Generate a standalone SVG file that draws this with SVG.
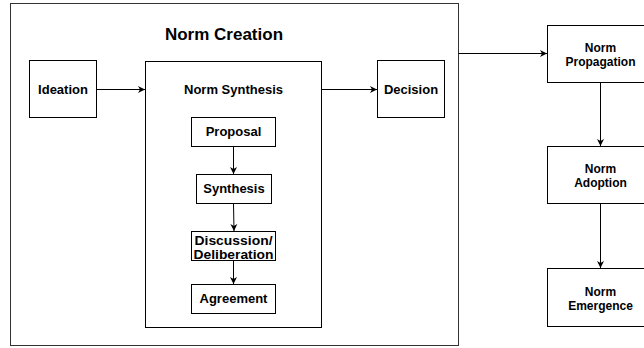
<svg xmlns="http://www.w3.org/2000/svg" width="644" height="348" viewBox="0 0 644 348">
<defs>
<style>
.box{fill:#fff;stroke:#000;stroke-width:1}
.outer{fill:#fff;stroke:#333;stroke-width:1}
.t{font-family:"Liberation Sans",Arial,Helvetica,sans-serif;font-weight:bold;font-size:13px;fill:#000;text-anchor:middle}
.s{font-size:12px}
.d{font-size:12.5px}
.title{font-size:17px}
.c{fill:none;stroke:#000;stroke-width:1}
</style>
<marker id="arr" markerUnits="userSpaceOnUse" markerWidth="8" markerHeight="8" refX="7" refY="4" orient="auto">
<path d="M0,0.5 L7,4 L0,7.5 L2,4 Z" fill="#000"/>
</marker>
</defs>
<rect width="644" height="348" fill="#fff"/>
<g id="norm-creation">
<rect class="outer" x="10.5" y="3.5" width="448" height="342"/>
<text class="t title" x="224" y="40">Norm Creation</text>
</g>
<g id="ideation">
<rect class="box" x="29.5" y="60.5" width="67" height="57"/>
<text class="t" x="63" y="94">Ideation</text>
</g>
<g id="norm-synthesis">
<rect class="box" x="145.5" y="61.5" width="176" height="266"/>
<text class="t" x="233.5" y="94">Norm Synthesis</text>
</g>
<g id="proposal">
<rect class="box" x="191.5" y="117.5" width="84" height="29"/>
<text class="t" x="233.5" y="136">Proposal</text>
</g>
<g id="synthesis">
<rect class="box" x="196.5" y="174.5" width="75" height="29"/>
<text class="t" x="234" y="193">Synthesis</text>
</g>
<g id="discussion">
<rect class="box" x="191.5" y="231.5" width="84" height="29"/>
<text class="t d" x="233.5" y="245" textLength="78" lengthAdjust="spacingAndGlyphs">Discussion/</text>
<text class="t d" x="233.5" y="259" textLength="80" lengthAdjust="spacingAndGlyphs">Deliberation</text>
</g>
<g id="agreement">
<rect class="box" x="191.5" y="284.5" width="84" height="29"/>
<text class="t" x="233.5" y="303">Agreement</text>
</g>
<g id="decision">
<rect class="box" x="377.5" y="60.5" width="67" height="57"/>
<text class="t" x="411" y="94">Decision</text>
</g>
<g id="norm-propagation">
<rect class="box" x="547.5" y="25.5" width="106" height="57"/>
<text class="t s" x="600.5" y="52">Norm</text>
<text class="t s" x="600.5" y="66">Propagation</text>
</g>
<g id="norm-adoption">
<rect class="box" x="547.5" y="146.5" width="106" height="57"/>
<text class="t s" x="600.5" y="173">Norm</text>
<text class="t s" x="600.5" y="187">Adoption</text>
</g>
<g id="norm-emergence">
<rect class="box" x="547.5" y="268.5" width="106" height="58"/>
<text class="t s" x="600.5" y="296">Norm</text>
<text class="t s" x="600.5" y="310">Emergence</text>
</g>
<g id="connectors">
<path class="c" d="M96.5,89.5 H145" marker-end="url(#arr)"/>
<path class="c" d="M321.5,89.5 H377" marker-end="url(#arr)"/>
<path class="c" d="M233.5,146.5 V174" marker-end="url(#arr)"/>
<path class="c" d="M233.5,203.5 L234,231" marker-end="url(#arr)"/>
<path class="c" d="M233.5,260.5 V284" marker-end="url(#arr)"/>
<path class="c" d="M458.5,53.5 H547" marker-end="url(#arr)"/>
<path class="c" d="M600.5,82.5 V146" marker-end="url(#arr)"/>
<path class="c" d="M600.5,203.5 V268" marker-end="url(#arr)"/>
</g>
</svg>
